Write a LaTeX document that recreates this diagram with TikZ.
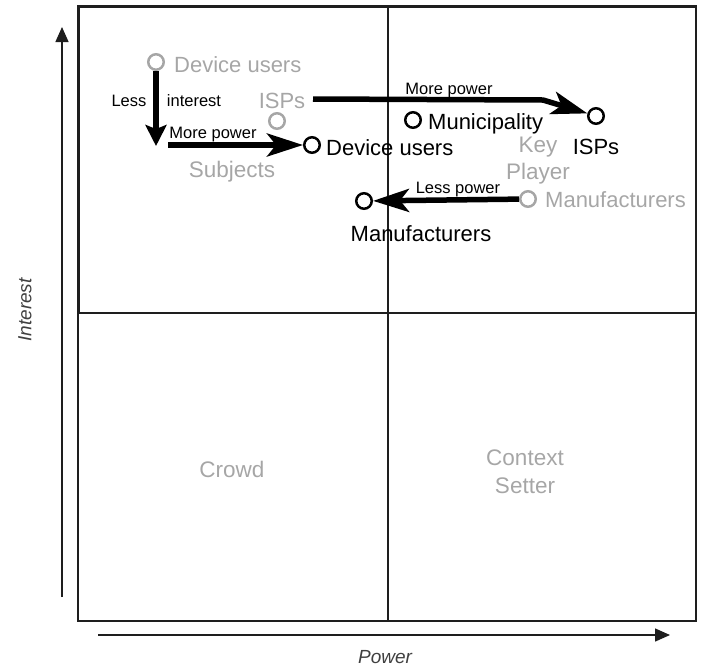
\documentclass[tikz,border=0pt]{standalone}
\usepackage{fontspec}
\setmainfont{Liberation Sans}
\usetikzlibrary{arrows.meta}
\definecolor{faded}{RGB}{166,166,166}
\definecolor{ink}{RGB}{30,30,30}
\begin{document}
\begin{tikzpicture}[x=1pt,y=-1pt,
  frame/.style={draw=ink,line width=1.6pt},
  heavyframe/.style={draw=ink,line width=3pt},
  qlabel/.style={text=faded,font=\fontsize{22.5}{27}\selectfont,align=center,inner sep=0pt,anchor=base},
  was/.style={circle,draw=faded,line width=2.5pt,minimum size=15.5pt,inner sep=0pt},
  now/.style={circle,draw=black,line width=2.5pt,minimum size=15.5pt,inner sep=0pt},
  oldname/.style={text=faded,font=\fontsize{22}{26}\selectfont,inner sep=0pt},
  newname/.style={text=black,font=\fontsize{22}{26}\selectfont,inner sep=0pt},
  shiftarrow/.style={line width=5.5pt,-{Stealth[length=36pt,width=23pt,inset=9pt]}},
  dropshift/.style={line width=5.5pt,-{Stealth[length=21pt,width=21pt,inset=4pt]}},
  note/.style={font=\fontsize{16.5}{19}\selectfont,inner sep=0pt,anchor=base},
  axis/.style={draw=ink,line width=1.4pt,-{Triangle[length=15pt,width=13pt]}},
  axislabel/.style={text=black!75,font=\itshape\fontsize{19}{22}\selectfont,inner sep=0pt}
]
\useasboundingbox (0,0) rectangle (706,670);

% quadrant grid
\draw[frame] (78,6) rectangle (696,621);
\draw[frame] (388,6) -- (388,621);
\draw[frame] (78,313) -- (696,313);
\draw[heavyframe] (78,313) -- (78,6) -- (696,6);

% quadrant names (base anchor sits on the last line)
\node[qlabel] (subjects) at (232,177) {Subjects};
\node[qlabel] (keyplayer) at (538,179) {Key\\Player};
\node[qlabel] (crowd) at (232,477) {Crowd};
\node[qlabel,font=\fontsize{22.5}{28}\selectfont] (context) at (525,493) {Context\\Setter};

% axes
\coordinate (ybottom) at (62,597);
\coordinate (ytop) at (62,27);
\coordinate (xleft) at (98,635);
\coordinate (xright) at (670,635);
\draw[axis] (ybottom) -- (ytop);
\draw[axis] (xleft) -- (xright);
\node[axislabel] (powerlabel) at (385,657) {Power};
\node[axislabel,rotate=90] (interestlabel) at (25,310) {Interest};

% earlier positions (faded)
\node[was] (oldDU) at (156,62) {};
\node[oldname,anchor=base west] (oldDUname) at (174,72) {Device users};
\node[was] (oldISP) at (277,121) {};
\node[oldname,anchor=base] (oldISPname) at (282,108) {ISPs};
\node[was] (oldMan) at (528,199) {};
\node[oldname,anchor=base west] (oldManname) at (545,207) {Manufacturers};

% new positions
\node[now] (newDU) at (312,145) {};
\node[newname,anchor=base west] (newDUname) at (326,155) {Device users};
\node[now] (muni) at (413,120) {};
\node[newname,anchor=base west] (muniname) at (428,129) {Municipality};
\node[now] (newISP) at (596,116) {};
\node[newname,anchor=base] (newISPname) at (596,154) {ISPs};
\node[now] (newMan) at (364,201) {};
\node[newname,anchor=base] (newManname) at (421,241) {Manufacturers};

% shifts
\coordinate (downend) at (156,146);
\draw[dropshift] (oldDU) -- (downend);
\node[note] (less) at (129,106) {Less};
\node[note] (interest) at (194,106) {interest};

\coordinate (dustart) at (168,145);
\draw[shiftarrow] (dustart) -- (newDU);
\node[note] (morepowerA) at (213,138) {More power};

\coordinate (ispstart) at (313,99);
\coordinate (ispbend) at (543,100);
\draw[shiftarrow,line join=round] (ispstart) -- (ispbend) -- (newISP);
\node[note] (morepowerB) at (449,94) {More power};

\draw[shiftarrow] (oldMan) -- (newMan);
\node[note] (lesspower) at (458,193) {Less power};
\end{tikzpicture}
\end{document}
